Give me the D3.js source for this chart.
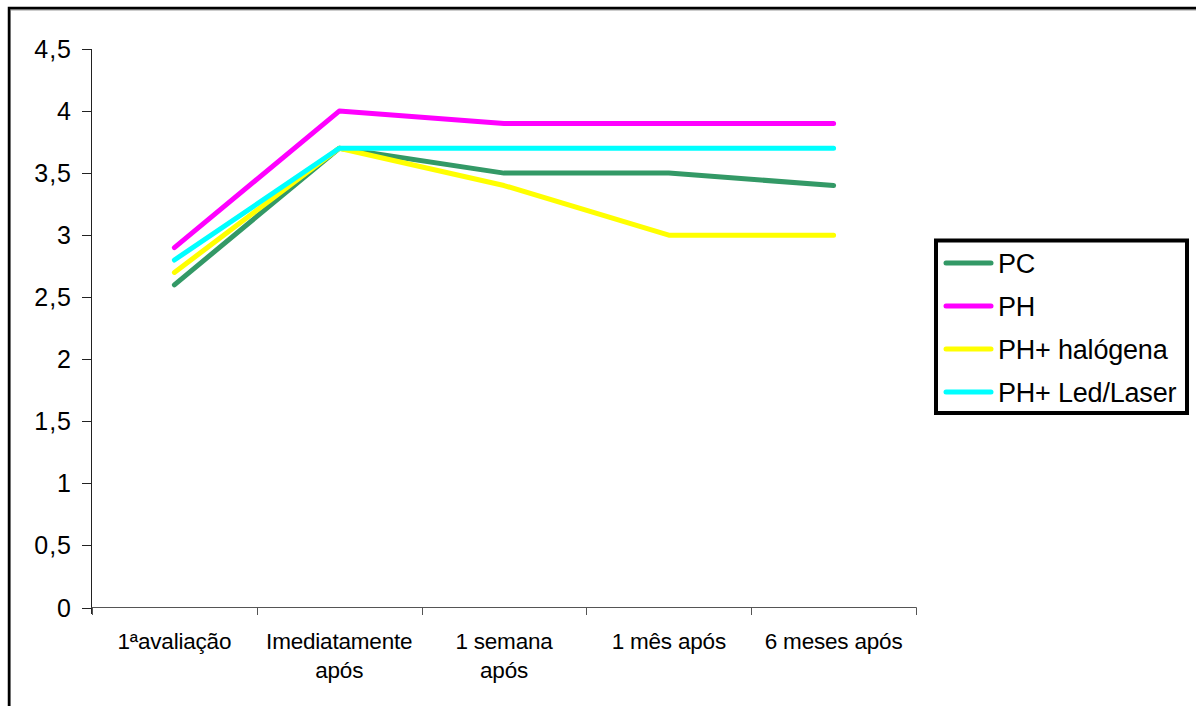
<!DOCTYPE html>
<html>
<head>
<meta charset="utf-8">
<script src="https://cdn.jsdelivr.net/npm/d3@7"></script>
<style>
  body { margin: 0; background: white; }
  svg { display: block; font-family: "Liberation Sans", Arial, sans-serif; }
</style>
</head>
<body>
<div id="chart"></div>
<script>
var width = 1196,
    height = 706;

var categories = [["1ªavaliação"], ["Imediatamente", "após"], ["1 semana", "após"], ["1 mês após"], ["6 meses após"]];
var seriesNames = ["PC", "PH", "PH+ halógena", "PH+ Led/Laser"];
var pc = [2.6, 3.7, 3.5, 3.5, 3.4];
var ph = [2.9, 4.0, 3.9, 3.9, 3.9];
var phHalogena = [2.7, 3.7, 3.4, 3.0, 3.0];
var phLed = [2.8, 3.7, 3.7, 3.7, 3.7];
var yTicks = [0, 0.5, 1, 1.5, 2, 2.5, 3, 3.5, 4, 4.5];
var colors = ["#339966", "#ff00ff", "#ffff00", "#00ffff"];

var series = [pc, ph, phHalogena, phLed];

var svg = d3.select('#chart').append('svg')
    .attr('width', width)
    .attr('height', height)

// outer frame (runs off the right and bottom)
svg.append("rect")
    .attr("x", 10).attr("y", 9.5)
    .attr("width", 1220).attr("height", 740)
    .attr("fill", "none")
    .attr("stroke", "#999").attr("stroke-width", 2)
svg.append("rect")
    .attr("x", 9).attr("y", 8)
    .attr("width", 1220).attr("height", 740)
    .attr("fill", "none")
    .attr("stroke", "#000").attr("stroke-width", 2.5)

var x = d3.scaleBand().domain(d3.range(categories.length)).range([92, 916])
var y = d3.scaleLinear().domain([0, 4.5]).range([607.5, 49])

var g = svg.append("g")

// y axis
g.append("line")
    .attr("x1", 91.5).attr("x2", 91.5)
    .attr("y1", y(4.5)).attr("y2", 614)
    .attr("stroke", "#222").attr("stroke-width", 1)

g.selectAll(".ytick").data(yTicks).enter()
    .append("line").attr("class", "ytick")
    .attr("x1", 82).attr("x2", 91.5)
    .attr("y1", function(d) { return Math.round(y(d)) + 0.5; })
    .attr("y2", function(d) { return Math.round(y(d)) + 0.5; })
    .attr("stroke", "#222")

g.selectAll(".ylabel").data(yTicks).enter()
    .append("text").attr("class", "ylabel")
    .attr("x", 72)
    .attr("y", function(d) { return y(d); })
    .attr("dy", "0.36em")
    .attr("text-anchor", "end")
    .style("font-size", "25px")
    .style("letter-spacing", "1px")
    .text(function(d) { return d3.format("")(d).replace(".", ","); })

// x axis
g.append("line")
    .attr("x1", 91.5).attr("x2", 916.5)
    .attr("y1", 607.5).attr("y2", 607.5)
    .attr("stroke", "#555")

var bounds = d3.range(categories.length + 1).map(function(i) { return i < categories.length ? x(i) : x.range()[1]; });
g.selectAll(".xtick").data(bounds).enter()
    .append("line").attr("class", "xtick")
    .attr("x1", function(d) { return Math.round(d) + 0.5; })
    .attr("x2", function(d) { return Math.round(d) + 0.5; })
    .attr("y1", 607.5).attr("y2", 615)
    .attr("stroke", "#555")

var xl = g.selectAll(".xlabel").data(categories).enter()
    .append("text").attr("class", "xlabel")
    .attr("text-anchor", "middle")
    .style("font-size", "22.5px")
    .style("letter-spacing", "-0.2px")
xl.selectAll("tspan").data(function(d, i) { return d.map(function(t) { return {t: t, i: i}; }); }).enter()
    .append("tspan")
    .attr("x", function(d) { return x(d.i) + x.bandwidth() / 2; })
    .attr("y", function(d, j) { return 649 + j * 29; })
    .text(function(d) { return d.t; })

// lines
var line = d3.line()
    .x(function(d, i) { return x(i) + x.bandwidth() / 2; })
    .y(function(d) { return y(d); })

g.selectAll(".series").data(series).enter()
    .append("path").attr("class", "series")
    .attr("d", line)
    .attr("fill", "none")
    .attr("stroke", function(d, i) { return colors[i]; })
    .attr("stroke-width", 5)
    .attr("stroke-linecap", "round")
    .attr("stroke-linejoin", "round")

// legend
var legend = svg.append("g")
legend.append("rect")
    .attr("x", 936).attr("y", 240.5)
    .attr("width", 251).attr("height", 172.5)
    .attr("fill", "white")
    .attr("stroke", "#000").attr("stroke-width", 4)

var item = legend.selectAll(".item").data(seriesNames).enter()
    .append("g").attr("class", "item")
    .attr("transform", function(d, i) { return "translate(0," + (263 + i * 43) + ")"; })
item.append("line")
    .attr("x1", 946).attr("x2", 991)
    .attr("stroke", function(d, i) { return colors[i]; })
    .attr("stroke-width", 5)
    .attr("stroke-linecap", "round")
item.append("text")
    .attr("x", 998)
    .attr("dy", "0.36em")
    .style("font-size", "27px")
    .style("letter-spacing", "-0.2px")
    .text(function(d) { return d; })
</script>
</body>
</html>
